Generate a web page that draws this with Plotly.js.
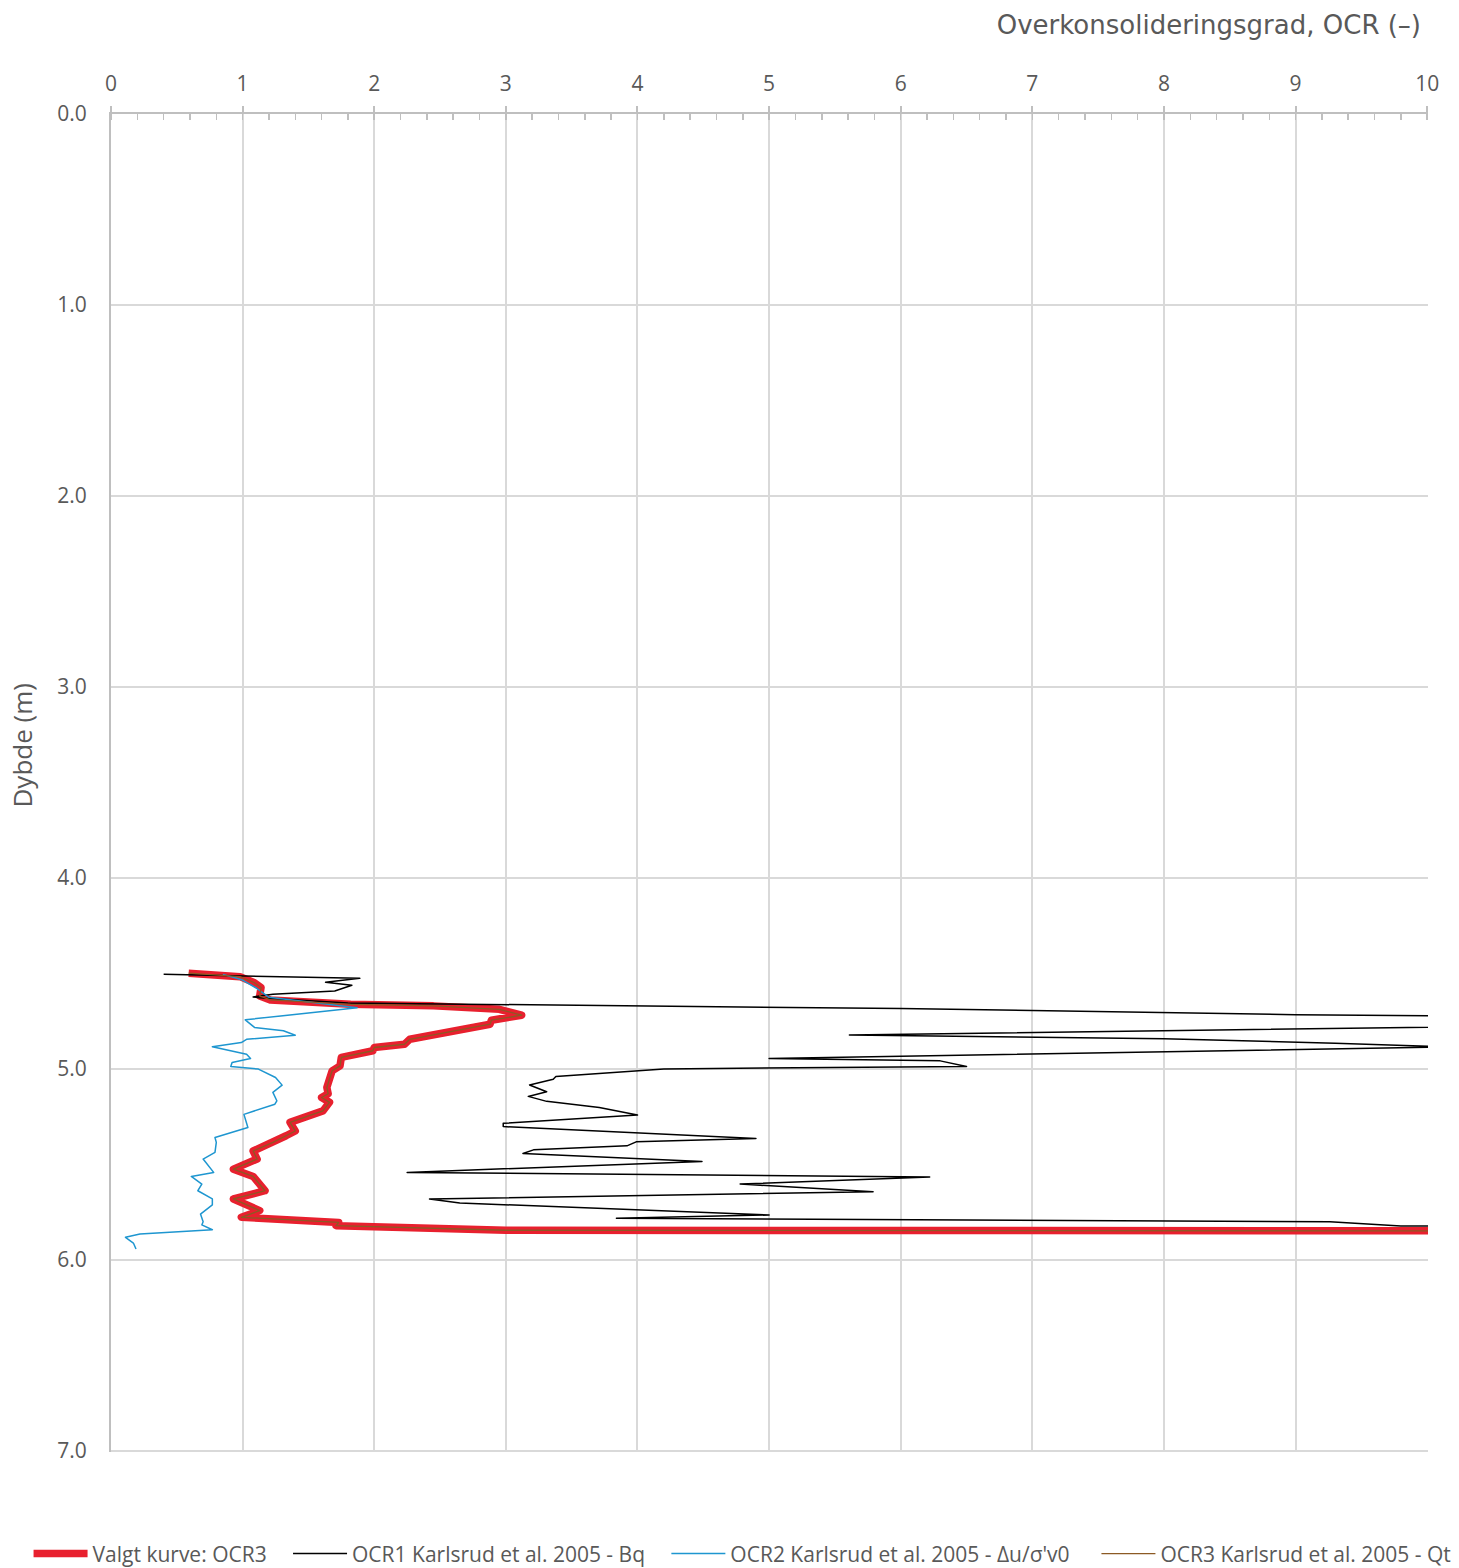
<!DOCTYPE html>
<html>
<head>
<meta charset="utf-8">
<script src="https://cdn.plot.ly/plotly-3.0.1.min.js"></script>
<style>
html,body{margin:0;padding:0;background:#fff;}
.scatterlayer path.js-line{stroke-linejoin:round;}
</style>
</head>
<body>
<div id="chart" style="width:1459px;height:1568px;"></div>
<script>
// OCR3 (also the chosen curve "Valgt kurve")
const ocr3X = [0.59,0.98,1.09,1.14,1.13,1.21,1.82,2.45,2.95,3.12,2.89,2.88,2.27,2.23,2.0,1.99,1.75,1.74,1.68,1.66,1.64,1.65,1.60,1.66,1.61,1.36,1.40,1.33,1.23,1.08,1.11,0.93,1.08,1.17,0.93,1.13,0.99,1.73,1.71,3.0,15];
const ocr3D = [4.499,4.517,4.549,4.574,4.618,4.639,4.662,4.670,4.688,4.719,4.745,4.766,4.845,4.871,4.888,4.905,4.940,4.984,5.010,5.054,5.097,5.130,5.150,5.175,5.220,5.280,5.325,5.350,5.385,5.430,5.472,5.525,5.563,5.638,5.681,5.742,5.777,5.804,5.821,5.845,5.850];

// OCR1 Karlsrud et al. 2005 - Bq
const ocr1X = [0.40,1.89,1.63,1.83,1.70,1.23,1.08,1.13,1.8,6.0,9.0,14,5.61,8.0,9.3,10.2,5.0,6.3,6.5,4.2,3.38,3.36,3.18,3.31,3.17,3.31,3.71,4.0,2.98,2.98,4.90,3.99,3.92,3.21,3.13,4.49,2.25,6.22,4.78,5.79,2.42,2.65,5.0,3.84,9.26,9.8,12];
const ocr1D = [4.505,4.526,4.546,4.562,4.592,4.609,4.623,4.628,4.655,4.684,4.716,4.745,4.822,4.842,4.866,4.885,4.945,4.958,4.987,5.0,5.040,5.054,5.084,5.120,5.144,5.170,5.202,5.242,5.285,5.302,5.364,5.382,5.403,5.424,5.443,5.485,5.542,5.566,5.603,5.643,5.681,5.702,5.765,5.782,5.800,5.822,5.825];

// OCR2 Karlsrud et al. 2005 - Δu/σ'v0
const ocr2X = [0.85,1.0,1.1,1.2,1.87,1.02,1.09,1.31,1.40,1.03,0.99,0.77,1.03,1.06,0.92,0.91,1.12,1.25,1.30,1.23,1.26,1.245,1.01,1.04,0.79,0.80,0.79,0.70,0.78,0.61,0.69,0.66,0.77,0.77,0.68,0.70,0.69,0.77,0.22,0.11,0.17,0.19];
const ocr2D = [4.505,4.535,4.575,4.625,4.680,4.743,4.783,4.800,4.824,4.845,4.862,4.884,4.923,4.946,4.967,4.987,5.001,5.045,5.085,5.123,5.167,5.185,5.238,5.307,5.359,5.385,5.437,5.472,5.542,5.563,5.603,5.638,5.681,5.712,5.760,5.800,5.817,5.842,5.865,5.882,5.912,5.943];

const PAD = '\u00A0\u00A0\u00A0';
const PAD2 = '\u00A0\u00A0\u00A0\u00A0';
const seriesNames = ["Valgt kurve: OCR3", "OCR1 Karlsrud et al. 2005 - Bq", "OCR2 Karlsrud et al. 2005 - \u0394u/\u03c3'v0", "OCR3 Karlsrud et al. 2005 - Qt"];
const xTitle = "Overkonsolideringsgrad, OCR (\u2013)";
const yTitle = "Dybde (m)";

const traces = [
  {x: ocr3X, y: ocr3D, name: seriesNames[0] + PAD, mode: 'lines', line: {color: '#E8202E', width: 7.5}},
  {x: ocr1X, y: ocr1D, name: seriesNames[1] + PAD, mode: 'lines', line: {color: '#000000', width: 1.5}},
  {x: ocr2X, y: ocr2D, name: seriesNames[2] + PAD2, mode: 'lines', line: {color: '#1E96D0', width: 1.5}},
  {x: ocr3X, y: ocr3D, name: seriesNames[3], mode: 'lines', line: {color: '#8C5A24', width: 1.3}}
];

const layout = {
  width: 1459, height: 1568,
  margin: {l: 111, r: 31, t: 114, b: 116, autoexpand: false},
  paper_bgcolor: '#ffffff', plot_bgcolor: '#ffffff',
  font: {family: 'Open Sans, sans-serif', color: '#595959', size: 21},
  title: {text: xTitle, font: {family: 'DejaVu Sans, sans-serif', size: 26, color: '#595959'},
          xref: 'container', yref: 'container', x: 1421/1459, xanchor: 'right', y: 1 - 25/1568, yanchor: 'middle'},
  xaxis: {side: 'top', range: [0, 10.006], tick0: 0, dtick: 1, showgrid: true, gridcolor: '#d9d9d9', gridwidth: 2,
          showline: true, linecolor: '#bfbfbf', linewidth: 2, ticks: 'outside', ticklen: 6, tickcolor: '#bfbfbf', tickwidth: 2,
          minor: {dtick: 0.2, ticks: 'inside', ticklen: 6, tickcolor: '#bfbfbf', tickwidth: 1.5, showgrid: false},
          zeroline: false, tickfont: {size: 21, color: '#595959'}, ticklabelstandoff: 7},
  yaxis: {range: [7.006, 0], tick0: 0, dtick: 1, tickformat: '.1f', showgrid: true, gridcolor: '#d9d9d9', gridwidth: 2,
          showline: true, linecolor: '#bfbfbf', linewidth: 2, ticks: '', zeroline: false,
          tickfont: {size: 21, color: '#595959'}, ticklabelstandoff: 18},
  showlegend: true,
  legend: {orientation: 'h', x: -0.0626, xanchor: 'left', y: -0.0762, yanchor: 'middle', font: {size: 21, color: '#595959'},
           bgcolor: 'rgba(0,0,0,0)', itemwidth: 54, traceorder: 'normal'},
  annotations: [{text: yTitle, xref: 'paper', yref: 'paper', x: -0.0676, y: 0.528, xanchor: 'center', yanchor: 'middle',
                 textangle: -90, showarrow: false, font: {size: 26, color: '#595959'}}]
};

Plotly.newPlot('chart', traces, layout, {displayModeBar: false, staticPlot: true});
</script>
</body>
</html>
